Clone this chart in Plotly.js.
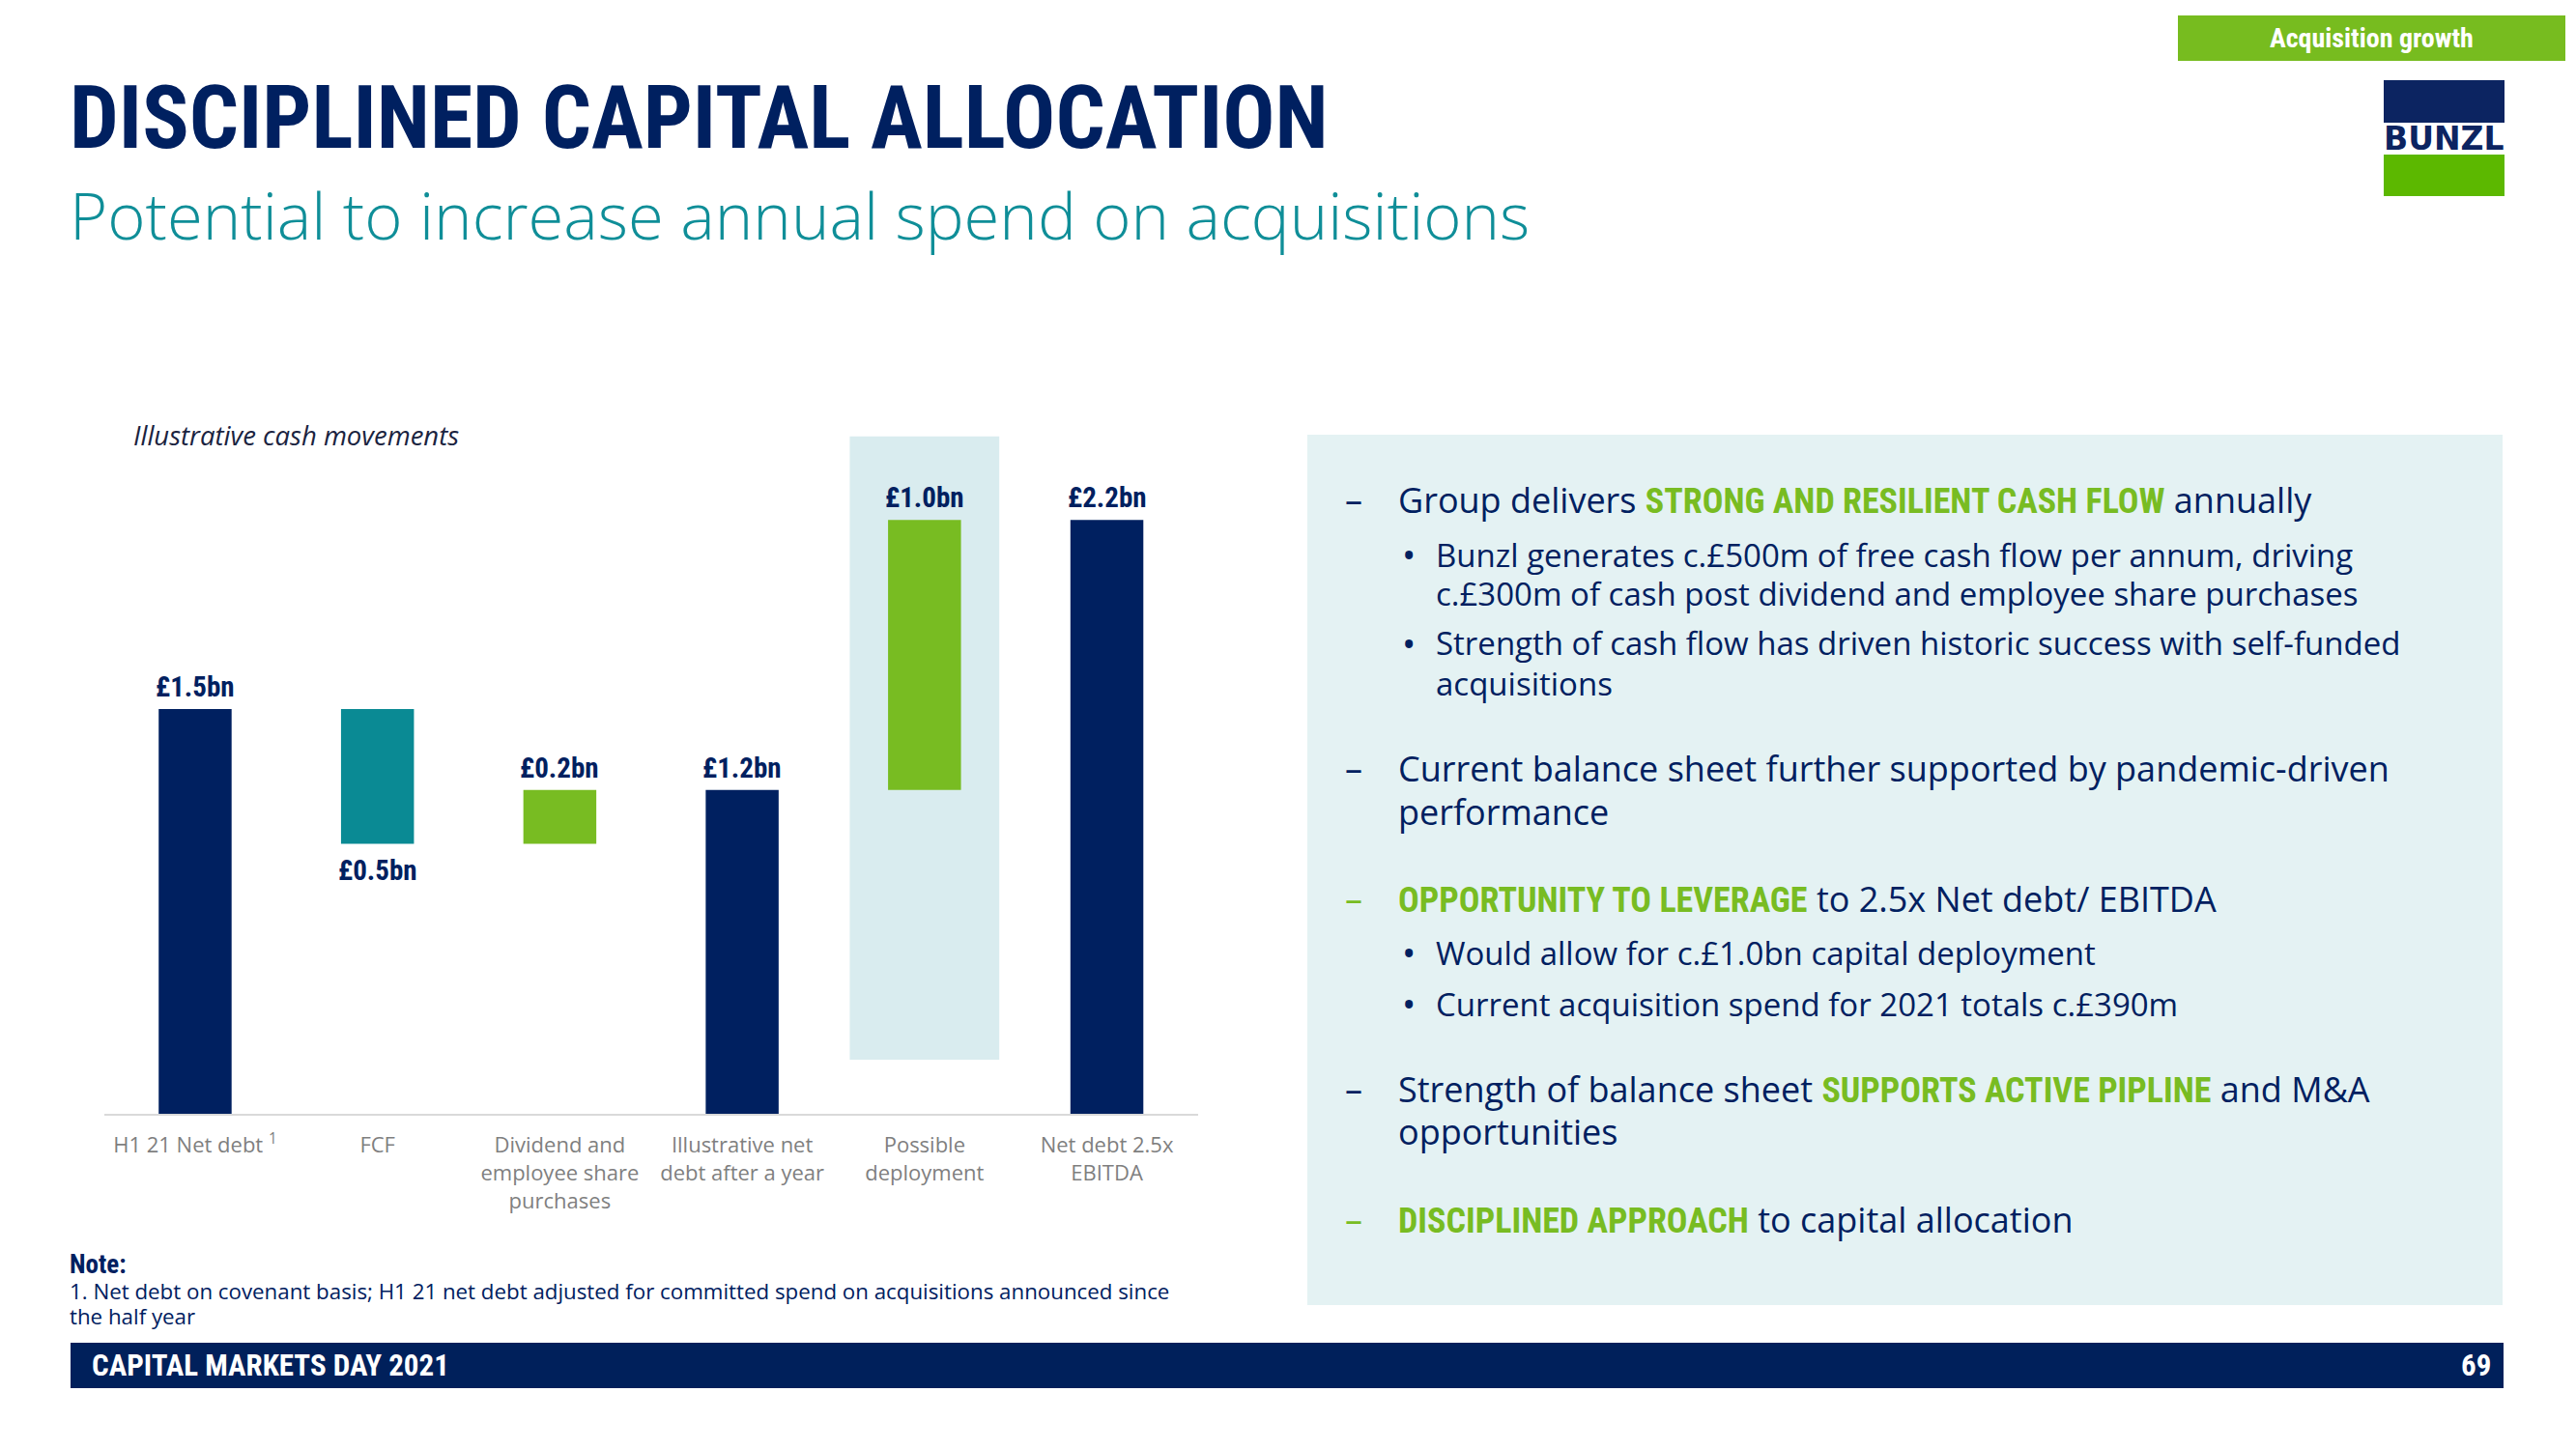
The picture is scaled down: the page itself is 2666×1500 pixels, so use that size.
<!DOCTYPE html>
<html>
<head>
<meta charset="utf-8">
<script src="https://cdn.plot.ly/plotly-3.0.1.min.js"></script>
<style>
html,body{margin:0;padding:0;background:#ffffff;}
#chart{width:2666px;height:1500px;}
</style>
</head>
<body>
<div id="chart"></div>
<script>
// ---------------- data ----------------
const categories = [
  "H1 21 Net debt <sup>1</sup>",
  "FCF",
  "Dividend and<br>employee share<br>purchases",
  "Illustrative net<br>debt after a year",
  "Possible<br>deployment",
  "Net debt 2.5x<br>EBITDA"
];
const measures = ["absolute", "relative", "relative", "total", "relative", "total"];
const values = [1.5, -0.5, 0.2, 0, 1.0, 0];
const valueLabels = ["£1.5bn", "£0.5bn", "£0.2bn", "£1.2bn", "£1.0bn", "£2.2bn"];
const highlightIndex = 4;
const highlightRange = [0.2, 2.51];

// ---------------- style ----------------
const W = 2666, H = 1500;
const NAVY = "#002060";
const TEAL = "#0a8a94";
const GREEN = "#78bc22";
const GREY = "#7f7f7f";
const COND = "Roboto Condensed, Liberation Sans Narrow, DejaVu Sans Condensed, Arial Narrow, Roboto, sans-serif";
const SANS = "Open Sans, Noto Sans, sans-serif";

function px(x) { return x / W; }
function py(y) { return 1 - y / H; }
function ann(text, x, y, size, extra) {
  return Object.assign({
    xref: "paper", yref: "paper", x: px(x), y: py(y),
    xanchor: "left", yanchor: "middle", showarrow: false, text: text,
    font: { family: SANS, size: size, color: NAVY }
  }, extra || {});
}
function rect(x0, y0, x1, y1, color, extra) {
  return Object.assign({
    type: "rect", xref: "paper", yref: "paper",
    x0: px(x0), x1: px(x1), y0: py(y1), y1: py(y0),
    fillcolor: color, line: { width: 0 }, layer: "below"
  }, extra || {});
}
function hl(t) {
  return '<span style="font-family:' + COND + ';color:' + GREEN + '"><b>' + t + '</b></span>';
}

// ---------------- bar value labels (data coordinates) ----------------
const labelAnns = [];
let running = 0;
for (let i = 0; i < values.length; i++) {
  let end;
  if (measures[i] === "absolute") { running = values[i]; end = running; }
  else if (measures[i] === "relative") { running += values[i]; end = running; }
  else { end = running; }
  const below = measures[i] === "relative" && values[i] < 0;
  labelAnns.push({
    xref: "x", yref: "y", x: i, y: end, showarrow: false,
    text: "<b>" + valueLabels[i] + "</b>", xanchor: "center", yanchor: "middle",
    yshift: below ? -27 : 23,
    font: { family: COND, size: 29, color: NAVY }
  });
}

// ---------------- right panel text ----------------
const DX = 1390, TX = 1445, BX = 1449, BTX = 1484;
const MAIN = 36, SUB = 33, DOT = 38;
const panel = [
  ann("–", DX, 518, MAIN),
  ann("Group delivers " + hl("STRONG AND RESILIENT CASH FLOW") + " annually", TX, 518, MAIN),
  ann("•", BX, 574, DOT),
  ann("Bunzl generates c.£500m of free cash flow per annum, driving", BTX, 574, SUB),
  ann("c.£300m of cash post dividend and employee share purchases", BTX, 614, SUB),
  ann("•", BX, 666, DOT),
  ann("Strength of cash flow has driven historic success with self-funded", BTX, 666, SUB),
  ann("acquisitions", BTX, 707, SUB),
  ann("–", DX, 796, MAIN),
  ann("Current balance sheet further supported by pandemic-driven", TX, 796, MAIN),
  ann("performance", TX, 840, MAIN),
  ann("–", DX, 930, MAIN, { font: { family: SANS, size: MAIN, color: GREEN } }),
  ann(hl("OPPORTUNITY TO LEVERAGE") + " to 2.5x Net debt/ EBITDA", TX, 930, MAIN),
  ann("•", BX, 986, DOT),
  ann("Would allow for c.£1.0bn capital deployment", BTX, 986, SUB),
  ann("•", BX, 1039, DOT),
  ann("Current acquisition spend for 2021 totals c.£390m", BTX, 1039, SUB),
  ann("–", DX, 1127, MAIN),
  ann("Strength of balance sheet " + hl("SUPPORTS ACTIVE PIPLINE") + " and M&A", TX, 1127, MAIN),
  ann("opportunities", TX, 1171, MAIN),
  ann("–", DX, 1262, MAIN, { font: { family: SANS, size: MAIN, color: GREEN } }),
  ann(hl("DISCIPLINED APPROACH") + " to capital allocation", TX, 1262, MAIN)
];

// ---------------- other slide text ----------------
const slideText = [
  ann("<b>DISCIPLINED CAPITAL ALLOCATION</b>", 70, 122, 90, { font: { family: COND, size: 90, color: NAVY } }),
  ann("Potential to increase annual spend on acquisitions", 70, 222, 67, { font: { family: SANS, size: 67, color: "#0f8e98", weight: 300 } }),
  ann("<b>Acquisition growth</b>", 2454, 39, 28, { xanchor: "center", font: { family: COND, size: 28, color: "#ffffff" } }),
  ann("<b>BUNZL</b>", 2529, 144, 33, { xanchor: "center", font: { family: "DejaVu Sans, Liberation Sans, sans-serif", size: 33, color: "#0c2461" } }),
  ann("<i>Illustrative cash movements</i>", 136, 450, 27.5, { font: { family: SANS, size: 27.5, color: "#1a2340" } }),
  ann("<b>Note:</b>", 70, 1309, 27, { font: { family: COND, size: 27, color: NAVY } }),
  ann("1. Net debt on covenant basis; H1 21 net debt adjusted for committed spend on acquisitions announced since", 70, 1336, 22.3),
  ann("the half year", 70, 1362, 22.3),
  ann("<b>CAPITAL MARKETS DAY 2021</b>", 93, 1413, 31, { font: { family: COND, size: 31, color: "#ffffff" } }),
  ann("<b>69</b>", 2580, 1413, 31, { xanchor: "right", font: { family: COND, size: 31, color: "#ffffff" } })
];

// ---------------- shapes ----------------
const shapes = [
  // highlight behind "Possible deployment" (data coordinates)
  { type: "rect", xref: "x", yref: "y", x0: highlightIndex - 0.41, x1: highlightIndex + 0.41,
    y0: highlightRange[0], y1: highlightRange[1], fillcolor: "#d9ecef", line: { width: 0 }, layer: "below" },
  rect(1353, 450, 2590, 1351, "#e4f2f3"),
  rect(73, 1390, 2591, 1437, "#00205b"),
  rect(2254, 16, 2655, 63, "#77bc1f"),
  rect(2467, 83, 2592, 127, "#0c2461"),
  rect(2467, 160, 2592, 203, "#5cb800")
];

const trace = {
  type: "waterfall",
  x: categories,
  y: values,
  measure: measures,
  width: 0.4,
  increasing: { marker: { color: GREEN } },
  decreasing: { marker: { color: TEAL } },
  totals: { marker: { color: NAVY } },
  connector: { visible: false },
  textinfo: "none",
  hoverinfo: "skip",
  cliponaxis: false
};

const layout = {
  width: W, height: H,
  margin: { l: 0, r: 0, t: 0, b: 0 },
  paper_bgcolor: "#ffffff",
  plot_bgcolor: "rgba(0,0,0,0)",
  showlegend: false,
  xaxis: {
    type: "category",
    domain: [107.6 / W, 1239.9 / W],
    range: [-0.5, 5.5],
    showgrid: false, zeroline: false,
    showline: true, linecolor: "#d9d9d9", linewidth: 2,
    ticks: "outside", ticklen: 12, tickcolor: "rgba(0,0,0,0)",
    tickfont: { family: SANS, size: 22, color: GREY },
    tickangle: 0,
    fixedrange: true
  },
  yaxis: {
    domain: [(H - 1153) / H, (H - 426.6) / H],
    range: [0, 2.6],
    visible: false,
    fixedrange: true
  },
  shapes: shapes,
  annotations: labelAnns.concat(panel, slideText)
};

Plotly.newPlot("chart", [trace], layout, { staticPlot: true, displayModeBar: false });
</script>
</body>
</html>
